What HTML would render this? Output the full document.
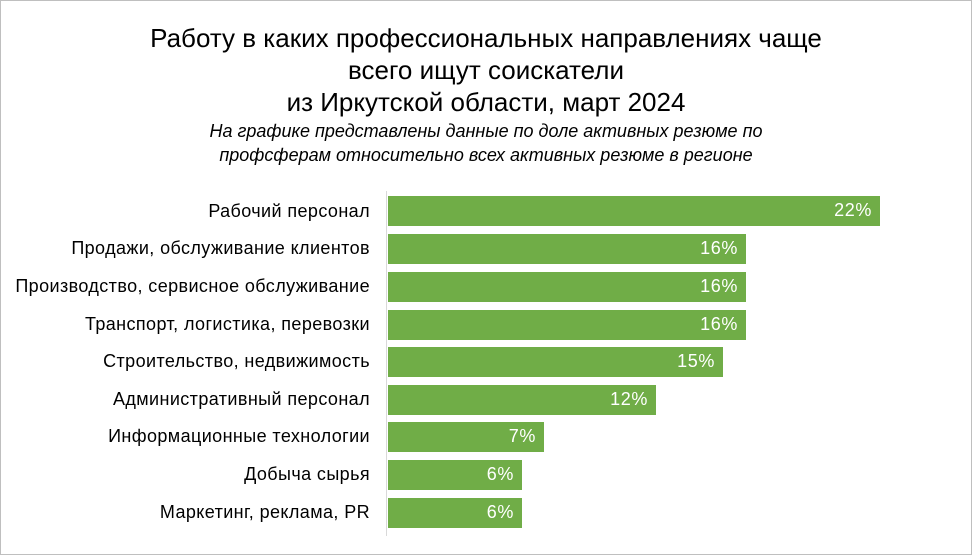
<!DOCTYPE html>
<html><head><meta charset="utf-8"><style>
body{margin:0;background:#fff;}
.wrap{position:relative;width:970px;height:553px;border:1px solid #bfbfbf;background:#fff;font-family:"Liberation Sans",sans-serif;overflow:hidden;}
.t{position:absolute;left:0;width:970px;text-align:center;font-size:26px;color:#000;}
.s{position:absolute;left:0;width:970px;text-align:center;font-size:18px;font-style:italic;color:#000;}
.lab{position:absolute;right:601px;font-size:18px;letter-spacing:0.4px;color:#000;white-space:nowrap;}
.bar{position:absolute;left:387px;height:30px;background:#70ad47;}
.v{position:absolute;right:8px;top:4px;font-size:18px;letter-spacing:0.6px;color:#fff;}
.ax{position:absolute;left:385px;top:190px;width:1px;height:345px;background:#d9d9d9;}
</style></head><body><div class="wrap">
<div class="t" style="top:22px">Работу в каких профессиональных направлениях чаще</div>
<div class="t" style="top:54px">всего ищут соискатели</div>
<div class="t" style="top:86px">из Иркутской области, март 2024</div>
<div class="s" style="top:120px">На графике представлены данные по доле активных резюме по</div>
<div class="s" style="top:144px">профсферам относительно всех активных резюме в регионе</div>
<div class="ax"></div>
<div class="lab" style="top:200px">Рабочий персонал</div><div class="bar" style="top:195px;width:492px"><span class="v">22%</span></div>
<div class="lab" style="top:237px">Продажи, обслуживание клиентов</div><div class="bar" style="top:233px;width:358px"><span class="v">16%</span></div>
<div class="lab" style="top:275px">Производство, сервисное обслуживание</div><div class="bar" style="top:271px;width:358px"><span class="v">16%</span></div>
<div class="lab" style="top:313px">Транспорт, логистика, перевозки</div><div class="bar" style="top:309px;width:358px"><span class="v">16%</span></div>
<div class="lab" style="top:350px">Строительство, недвижимость</div><div class="bar" style="top:346px;width:335px"><span class="v">15%</span></div>
<div class="lab" style="top:388px">Административный персонал</div><div class="bar" style="top:384px;width:268px"><span class="v">12%</span></div>
<div class="lab" style="top:425px">Информационные технологии</div><div class="bar" style="top:421px;width:156px"><span class="v">7%</span></div>
<div class="lab" style="top:463px">Добыча сырья</div><div class="bar" style="top:459px;width:134px"><span class="v">6%</span></div>
<div class="lab" style="top:501px">Маркетинг, реклама, PR</div><div class="bar" style="top:497px;width:134px"><span class="v">6%</span></div>
</div></body></html>
